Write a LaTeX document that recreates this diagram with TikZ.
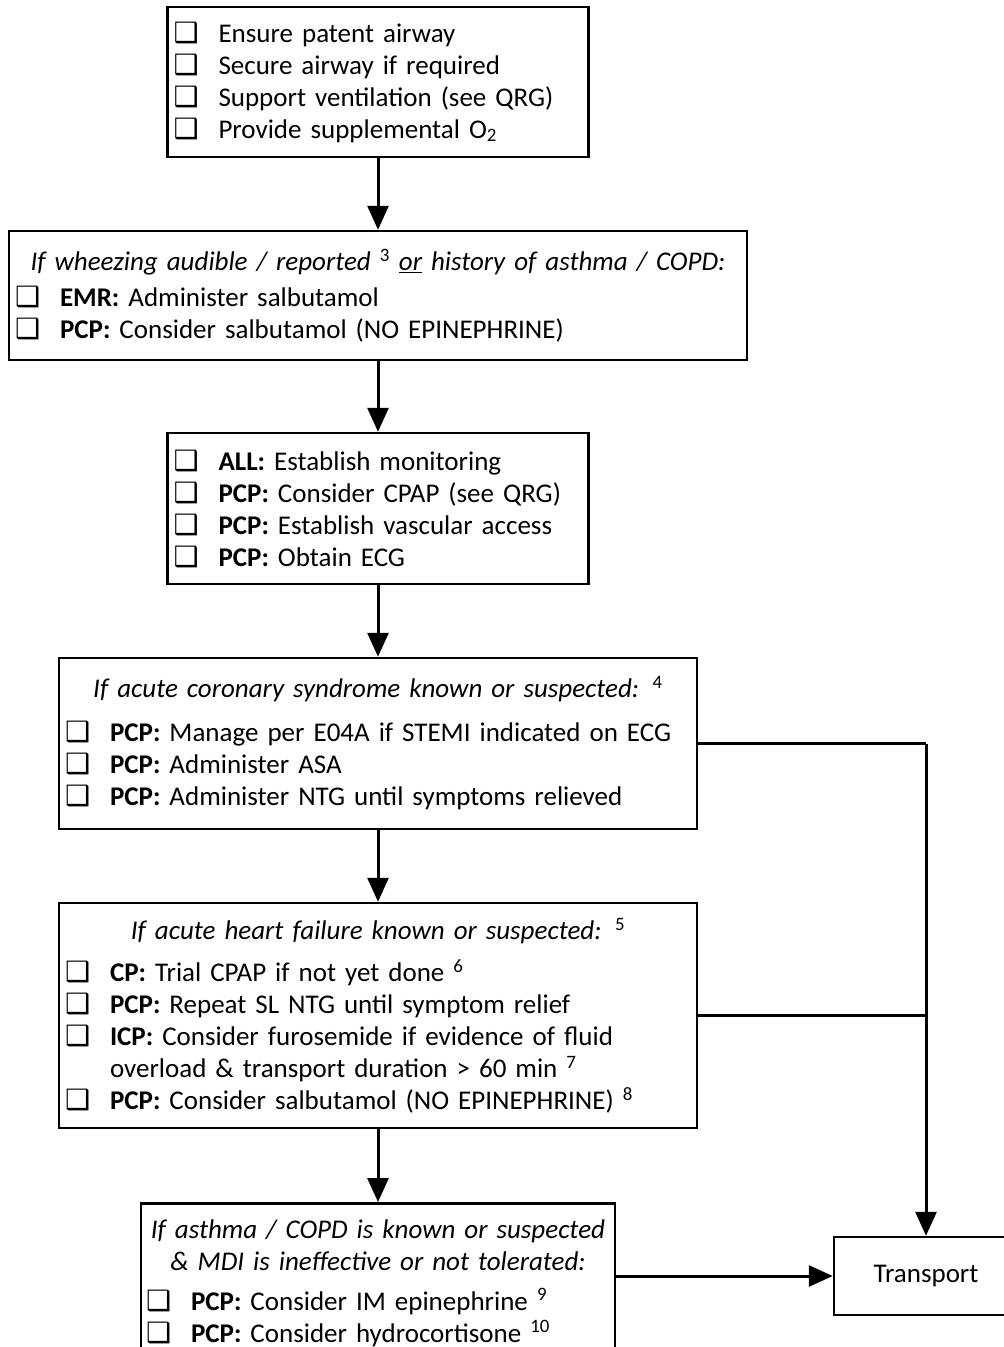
\documentclass[tikz,border=0pt]{standalone}
\usepackage{fontspec}
\setmainfont{Carlito}
\newfontfamily\boxfont{DejaVu Sans}
\usetikzlibrary{arrows.meta,positioning}

\newcommand{\chk}{\makebox[45pt][l]{\boxfont\fontsize{28}{28}\selectfont ❑}}
\newcommand{\hdr}[1]{{\centering\itshape #1\par}}
\newcommand{\task}[2]{\raggedright\hangindent=45pt\hangafter=1\noindent\chk\textbf{#1:} #2\par}
\newcommand{\plain}[1]{\raggedright\noindent\chk #1\par}
\newcommand{\fn}[1]{\textsuperscript{\upshape #1}}

\begin{document}
\begin{tikzpicture}[x=1pt, y=-1pt, >={Triangle[length=24pt,width=21pt]}, line width=3pt]
    \tikzstyle{stepbox} = [
        draw,
        line width=2.5pt,
        inner xsep=6pt,
        inner ysep=4pt,
        font=\fontsize{27}{32}\selectfont
    ]

    \useasboundingbox (0,0) rectangle (1004,1347);

    \node[stepbox, text width=409pt, minimum height=150pt] (airway) at (378,82) {
        \plain{Ensure patent airway}
        \plain{Secure airway if required}
        \plain{Support ventilation (see QRG)}
        \plain{Provide supplemental O\textsubscript{2}}};

    \node[stepbox, text width=726pt, minimum height=129pt] (wheeze) at (378,295.5) {
        \hdr{\mbox{If wheezing audible / reported \fn{3} \underline{or} history of asthma / COPD:}}
        \vspace{4pt}
        \task{EMR}{Administer salbutamol}
        \task{PCP}{Consider salbutamol (NO EPINEPHRINE)}};

    \node[stepbox, text width=409pt, minimum height=151pt] (monitor) at (378,508.5) {
        \task{ALL}{Establish monitoring}
        \task{PCP}{Consider CPAP (see QRG)}
        \task{PCP}{Establish vascular access}
        \task{PCP}{Obtain ECG}};

    \node[stepbox, text width=626pt, minimum height=171pt] (acs) at (378,743.5) {
        \hdr{If acute coronary syndrome known or suspected: \fn{4}}
        \vspace{12pt}
        \task{PCP}{\mbox{Manage per E04A if STEMI indicated on ECG}}
        \task{PCP}{Administer ASA}
        \task{PCP}{Administer NTG until symptoms relieved}};

    \node[stepbox, text width=626pt, minimum height=225pt] (heart) at (378,1015.5) {
        \hdr{If acute heart failure known or suspected: \fn{5}}
        \vspace{10pt}
        \task{CP}{Trial CPAP if not yet done \fn{6}}
        \task{PCP}{Repeat SL NTG until symptom relief}
        \task{ICP}{Consider furosemide if evidence of fluid\newline overload \& transport duration > 60 min \fn{7}}
        \task{PCP}{Consider salbutamol (NO EPINEPHRINE) \fn{8}}};

    \node[stepbox, text width=464pt, inner xsep=5pt, anchor=north, inner ysep=16pt] (asthma) at (378,1202) {
        \hdr{\mbox{If asthma / COPD is known or suspected}\\ \mbox{\& MDI is ineffective or not tolerated:}}
        \vspace{8pt}
        \task{PCP}{Consider IM epinephrine \fn{9}}
        \task{PCP}{Consider hydrocortisone \fn{10}}
        \vspace*{30pt}};

    \node[stepbox, minimum width=184pt, minimum height=78pt] (transport) at (926,1276) {Transport};

    \coordinate (j1) at (926,743.5);
    \coordinate (j2) at (926,1015.5);

    % main column
    \draw[->] (airway) -- (wheeze);
    \draw[->] (wheeze) -- (monitor);
    \draw[->] (monitor) -- (acs);
    \draw[->] (acs) -- (heart);
    \draw[->] (heart) -- (asthma);

    % side branch to transport
    \draw (acs.east) -- (j1);
    \draw (heart.east) -- (j2);
    \draw[->] (j1) -- (transport.north);
    \draw[->] (transport.west -| asthma.east) -- (transport.west);
\end{tikzpicture}
\end{document}
